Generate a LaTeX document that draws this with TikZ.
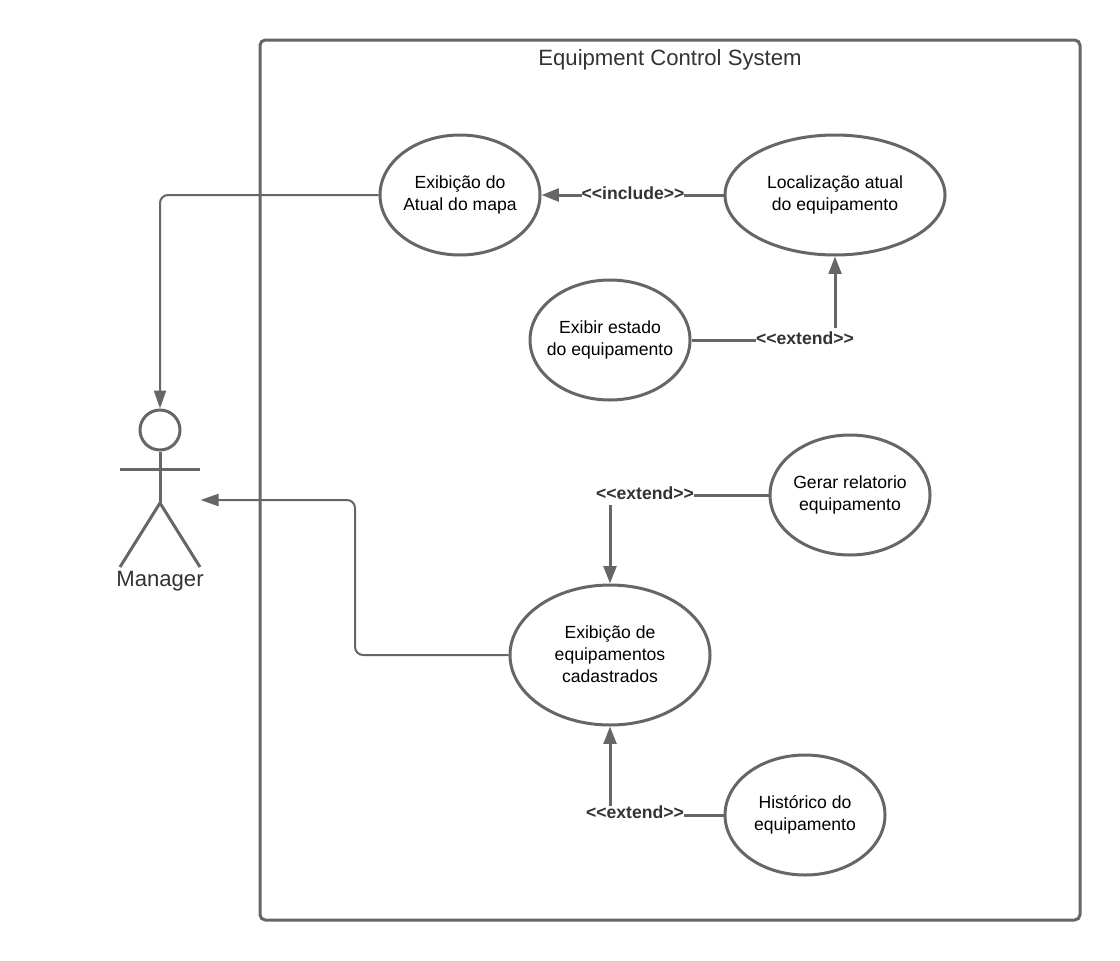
\documentclass[tikz,border=0pt]{standalone}
\usepackage{fontspec}
\setmainfont{Liberation Sans}
\usetikzlibrary{arrows.meta,shapes.geometric}
\definecolor{ln}{HTML}{666666}
\definecolor{tx}{HTML}{333333}
\tikzset{
 usecase/.style={draw=ln,line width=2.25pt,ellipse,fill=white,inner sep=-16pt,align=center,font=\fontsize{13.2}{16.5}\selectfont,text=black},
 tag/.style={fill=white,inner xsep=0pt,inner ysep=0pt,font=\fontsize{13.2}{14}\selectfont\bfseries,text=tx},
 thick conn/.style={draw=ln,line width=2.25pt,-{Triangle[length=13pt,width=9.5pt]}},
 thin conn/.style={draw=ln,line width=1.5pt,rounded corners=6pt,-{Triangle[length=13.5pt,width=9pt]}},
 body/.style={draw=ln,line width=2.25pt},
}
\newcommand{\upa}[1]{\raisebox{1.5pt}{#1}}
\newcommand{\upb}[1]{\raisebox{2.2pt}{#1}}
\begin{document}
\begin{tikzpicture}[x=0.75pt,y=-0.75pt]
\useasboundingbox[fill=white] (0,0) rectangle (1120,960);
\node[draw=ln,line width=2.25pt,rounded corners=4pt,minimum width=615pt,minimum height=660pt,inner sep=0pt] (frame) at (670,480) {};
\node[font=\fontsize{16.6}{19}\selectfont,text=tx] (title) at (670,60) {Equipment Control System};
\node[usecase,minimum width=120pt,minimum height=90pt] (e1) at (460,195) {\upa{Exibição do}\\\upa{Atual do mapa}};
\node[usecase,minimum width=165pt,minimum height=90pt] (e2) at (835,195) {\upa{Localização atual}\\\upa{do equipamento}};
\node[usecase,minimum width=120pt,minimum height=90pt] (e3) at (610,340) {\upa{Exibir estado}\\\upa{do equipamento}};
\node[usecase,minimum width=120pt,minimum height=90pt] (e4) at (850,495) {\upb{Gerar relatorio}\\\upb{equipamento}};
\node[usecase,minimum width=150pt,minimum height=105pt] (e5) at (610,655) {\upa{Exibição de}\\\upa{equipamentos}\\\upa{cadastrados}};
\node[usecase,minimum width=120pt,minimum height=90pt] (e6) at (805,815) {\upa{Histórico do}\\\upa{equipamento}};
% actor
\node[draw=ln,line width=2.25pt,circle,minimum size=30pt,inner sep=0pt] (head) at (160,430) {};
\coordinate (hip) at (160,503);
\coordinate (armL) at (120,469);
\coordinate (armR) at (200,469);
\coordinate (legL) at (120,567);
\coordinate (legR) at (200,567);
\coordinate (actorIn) at (200.5,500);
\draw[body] (head.south) -- (hip);
\draw[body] (armL) -- (armR);
\draw[body,line join=round] (legL) -- (hip) -- (legR);
\node[font=\fontsize{16.6}{19}\selectfont,text=tx] (mgr) at (160,581) {Manager};
% connectors
\draw[thin conn] (e1.west) -| (head.north);
\draw[thin conn] (e5.west) -| (355,500) -- (actorIn);
\draw[thick conn] (e2.west) -- (e1.east);
\draw[thick conn] (e3.east) -| (e2.south);
\draw[thick conn] (e4.west) -| (e5.north);
\draw[thick conn] (e6.west) -| (e5.south);
\node[tag,minimum height=15pt] (l1) at (633,193) {<{}<include>{}>};
\node[tag,minimum height=15pt] (l2) at (805,338) {<{}<extend>{}>};
\node[tag,minimum height=18pt] (l3) at (645,493) {<{}<extend>{}>};
\node[tag,minimum height=10.5pt] (l4) at (635,812.5) {<{}<extend>{}>};
\end{tikzpicture}
\end{document}
